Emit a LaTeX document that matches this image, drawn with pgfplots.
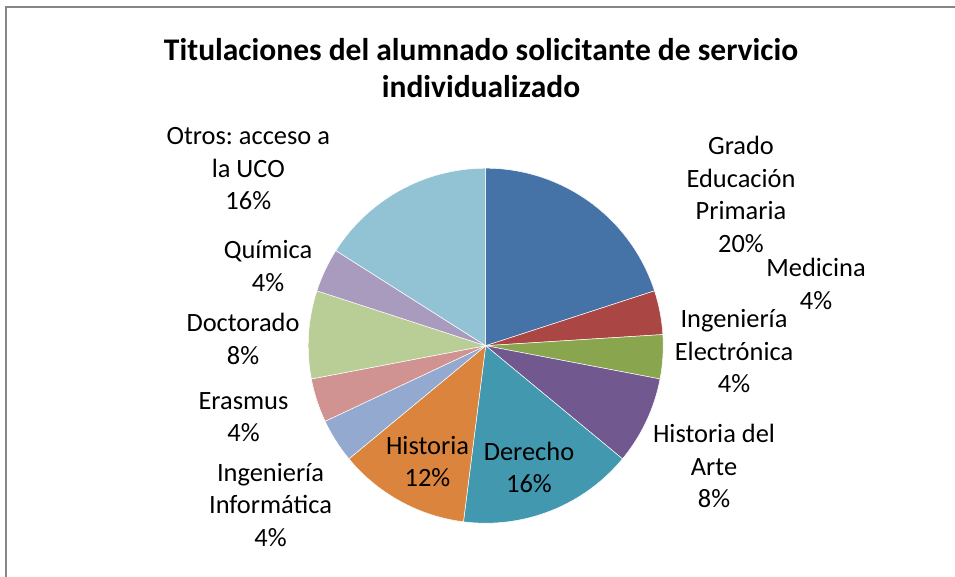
\documentclass[border=0pt]{standalone}
\usepackage{fontspec}
\setmainfont{Carlito}
\usepackage{pgfplots}
\usepackage{pgfplotstable}
\pgfplotsset{compat=1.18}
\frenchspacing

% Excel 2007 palette
\definecolor{pc0}{HTML}{4572A7}
\definecolor{pc1}{HTML}{AA4643}
\definecolor{pc2}{HTML}{89A54E}
\definecolor{pc3}{HTML}{71588F}
\definecolor{pc4}{HTML}{4198AF}
\definecolor{pc5}{HTML}{DB843D}
\definecolor{pc6}{HTML}{93A9CF}
\definecolor{pc7}{HTML}{D19392}
\definecolor{pc8}{HTML}{B9CD96}
\definecolor{pc9}{HTML}{A99BBD}
\definecolor{pc10}{HTML}{92C3D4}
\definecolor{frame}{HTML}{868686}

% share of each titulacion, clockwise from 12 o'clock
\pgfplotstableread{
idx pct
0 20
1 4
2 4
3 8
4 16
5 12
6 4
7 4
8 8
9 4
10 16
}\pietable

\begin{document}
\begin{tikzpicture}[
  lbl/.style={anchor=base, inner sep=0pt, font=\fontsize{26.4}{32.5}\selectfont}]
\useasboundingbox (0,0) rectangle (955pt,576pt);
\clip (0,0) rectangle (955pt,576pt);

% cumulative start/end angles
\xdef\acc{90}
\foreach \i in {0,...,10}{%
  \pgfplotstablegetelem{\i}{pct}\of\pietable
  \pgfmathsetmacro\e{\acc-3.6*\pgfplotsretval}%
  \expandafter\xdef\csname pieS\i\endcsname{\acc}%
  \expandafter\xdef\csname pieE\i\endcsname{\e}%
  \xdef\acc{\e}%
}

\begin{axis}[
  scale only axis, width=955pt, height=576pt,
  xmin=0, xmax=955, ymin=0, ymax=576,
  hide axis, clip=false,
]
\pgfplotsinvokeforeach{0,...,10}{
  \fill[pc#1, draw=white, line width=0.5pt] (axis cs:485.7,230.3)
    -- ++(\csname pieS#1\endcsname:177.5pt)
    arc[start angle=\csname pieS#1\endcsname, end angle=\csname pieE#1\endcsname, radius=177.5pt]
    -- cycle;
}

\draw[frame, line width=2pt] (axis cs:6,-10) -- (axis cs:6,568.5) -- (axis cs:970,568.5);

\node[anchor=base, inner sep=0pt, font=\bfseries\fontsize{31.5}{37}\selectfont]
  at (axis cs:481,515.5) {\begin{tabular}[t]{@{}c@{}}Titulaciones del alumnado solicitante de servicio\\individualizado\end{tabular}};

\node[lbl] at (axis cs:741,421) {\begin{tabular}[t]{@{}c@{}}Grado\\Educación\\Primaria\\20\%\end{tabular}};
\node[lbl] at (axis cs:816,299) {\begin{tabular}[t]{@{}c@{}}Medicina\\4\%\end{tabular}};
\node[lbl] at (axis cs:734,248) {\begin{tabular}[t]{@{}c@{}}Ingeniería\\Electrónica\\4\%\end{tabular}};
\node[lbl] at (axis cs:714,133.3) {\begin{tabular}[t]{@{}c@{}}Historia del\\Arte\\8\%\end{tabular}};
\node[lbl] at (axis cs:529,116) {\begin{tabular}[t]{@{}c@{}}Derecho\\16\%\end{tabular}};
\node[lbl] at (axis cs:427.5,122) {\begin{tabular}[t]{@{}c@{}}Historia\\12\%\end{tabular}};
\node[lbl] at (axis cs:270.5,95) {\begin{tabular}[t]{@{}c@{}}Ingeniería\\Informática\\4\%\end{tabular}};
\node[lbl] at (axis cs:243.5,166.7) {\begin{tabular}[t]{@{}c@{}}Erasmus\\4\%\end{tabular}};
\node[lbl] at (axis cs:243,244.3) {\begin{tabular}[t]{@{}c@{}}Doctorado\\8\%\end{tabular}};
\node[lbl] at (axis cs:268,317) {\begin{tabular}[t]{@{}c@{}}Química\\4\%\end{tabular}};
\node[lbl] at (axis cs:248.3,431) {\begin{tabular}[t]{@{}c@{}}Otros: acceso a\\la UCO\\16\%\end{tabular}};
\end{axis}
\end{tikzpicture}
\end{document}
